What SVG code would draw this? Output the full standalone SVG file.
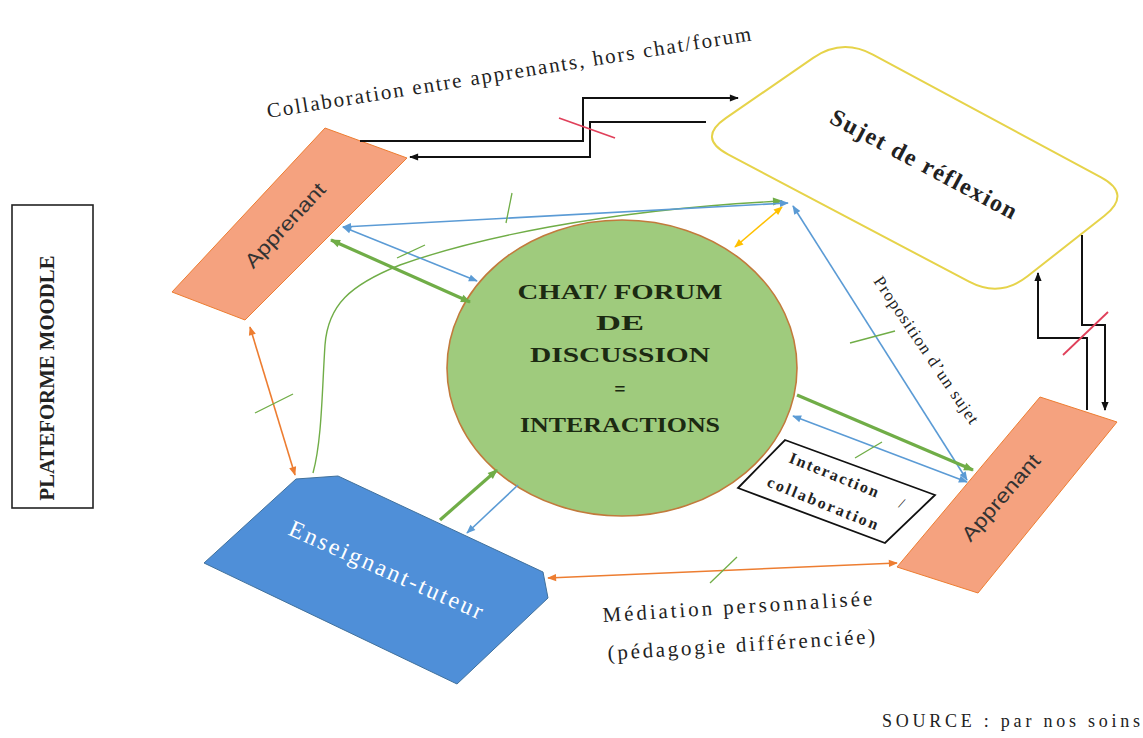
<svg xmlns="http://www.w3.org/2000/svg" width="1143" height="738" viewBox="0 0 1143 738">
<style>
.serif{font-family:"Liberation Serif","Times New Roman",serif;fill:#222}
.sans{font-family:"Liberation Sans",Arial,sans-serif;fill:#333}
.ctext{font-family:"Liberation Serif","Times New Roman",serif;font-weight:bold;font-size:20px;fill:#1c2a12;text-anchor:middle}
.blk{stroke:#111;stroke-width:2;fill:none}
.blu{stroke:#5b9bd5;stroke-width:1.6;fill:none}
.grn{stroke:#70ad47;stroke-width:1.4;fill:none}
.grnT{stroke:#70ad47;stroke-width:3.2;fill:none}
.org{stroke:#ed7d31;stroke-width:1.6;fill:none}
.gld{stroke:#ffc000;stroke-width:1.6;fill:none}
.tick{stroke:#70ad47;stroke-width:1.3}
.red{stroke:#e0405a;stroke-width:1.8}
.appr{fill:#f5a27f;stroke:#ed7d31;stroke-width:1}
</style>
<defs>
<marker id="ak" viewBox="0 0 10 10" refX="9" refY="5" markerWidth="10" markerHeight="9" markerUnits="userSpaceOnUse" orient="auto-start-reverse"><path d="M0,1 L10,5 L0,9 z" fill="#111"/></marker>
<marker id="ab" viewBox="0 0 10 10" refX="9" refY="5" markerWidth="10" markerHeight="9" markerUnits="userSpaceOnUse" orient="auto-start-reverse"><path d="M0,1 L10,5 L0,9 z" fill="#5b9bd5"/></marker>
<marker id="ag" viewBox="0 0 10 10" refX="9" refY="5" markerWidth="11" markerHeight="10" markerUnits="userSpaceOnUse" orient="auto-start-reverse"><path d="M0,1 L10,5 L0,9 z" fill="#70ad47"/></marker>
<marker id="ao" viewBox="0 0 10 10" refX="9" refY="5" markerWidth="10" markerHeight="9" markerUnits="userSpaceOnUse" orient="auto-start-reverse"><path d="M0,1 L10,5 L0,9 z" fill="#ed7d31"/></marker>
<marker id="ay" viewBox="0 0 10 10" refX="9" refY="5" markerWidth="10" markerHeight="9" markerUnits="userSpaceOnUse" orient="auto-start-reverse"><path d="M0,1 L10,5 L0,9 z" fill="#ffc000"/></marker>
</defs>
<rect width="1143" height="738" fill="#fff"/>

<g id="plateforme">
<rect x="12" y="205" width="81" height="303" fill="#fff" stroke="#222" stroke-width="1.6"/>
<text class="serif" transform="translate(54,378) rotate(-90)" text-anchor="middle" font-size="22" font-weight="bold" textLength="245" lengthAdjust="spacingAndGlyphs">PLATEFORME MOODLE</text>
</g>

<g id="sujet">
<path d="M725.8,118.1 L813.2,57.9 Q842,38 872.9,54.6 L1101.1,177.4 Q1132,194 1104.5,215.7 L1027.5,276.3 Q1000,298 969.1,281.7 L728,154.3 Q697,138 725.8,118.1 Z" fill="#fff" stroke="#e6d34a" stroke-width="2"/>
<text class="serif" transform="translate(920,171) rotate(28)" text-anchor="middle" font-size="24" font-weight="bold" textLength="208" lengthAdjust="spacing">Sujet de réflexion</text>
</g>

<g id="apprenant1">
<polygon class="appr" points="325,128 407,158 245,320 172,292"/>
<text class="sans" transform="translate(290,230) rotate(-47)" text-anchor="middle" font-size="20" textLength="108" lengthAdjust="spacingAndGlyphs">Apprenant</text>
</g>

<g id="apprenant2">
<polygon class="appr" points="1040,397 1117,422 978,593 897,567"/>
<text class="sans" transform="translate(1006,502) rotate(-49)" text-anchor="middle" font-size="20" textLength="108" lengthAdjust="spacingAndGlyphs">Apprenant</text>
</g>

<g id="enseignant">
<polygon points="204,563 296,479 338,476 543,572 548,598 457,684" fill="#4f8fd8" stroke="#41719c" stroke-width="1"/>
<text transform="translate(383,577) rotate(24)" text-anchor="middle" font-family="Liberation Serif, Times New Roman, serif" font-size="24" fill="#fff" textLength="210" lengthAdjust="spacing">Enseignant-tuteur</text>
</g>

<g id="chat">
<ellipse cx="622" cy="368" rx="175" ry="148" fill="#9fcb7d" stroke="#c27a3c" stroke-width="1.6"/>
<text class="ctext" x="620" y="299" textLength="205" lengthAdjust="spacingAndGlyphs">CHAT/ FORUM</text>
<text class="ctext" x="620" y="330" textLength="48" lengthAdjust="spacingAndGlyphs">DE</text>
<text class="ctext" x="620" y="362" textLength="180" lengthAdjust="spacingAndGlyphs">DISCUSSION</text>
<text class="ctext" x="620" y="396" font-size="24">=</text>
<text class="ctext" x="620" y="432" textLength="200" lengthAdjust="spacingAndGlyphs">INTERACTIONS</text>
</g>

<g id="interaction">
<polygon points="785,440 935,495 885,543 738,488" fill="#fff" stroke="#111" stroke-width="1.8"/>
<text class="serif" transform="translate(788,462) rotate(22)" font-size="16" font-weight="bold" textLength="95" lengthAdjust="spacing">Interaction</text>
<text class="serif" transform="translate(898,507) rotate(22)" font-size="15">/</text>
<text class="serif" transform="translate(766,486) rotate(22)" font-size="16" font-weight="bold" textLength="118" lengthAdjust="spacing">collaboration</text>
</g>

<g id="connectors">
<path class="blk" d="M360,141 H583 V98 H738" marker-end="url(#ak)"/>
<path class="blk" d="M706,122 H590 V157 H410" marker-end="url(#ak)"/>
<path class="blk" d="M1082,235 V325 H1105 V410" marker-end="url(#ak)"/>
<path class="blk" d="M1087,410 V338 H1038 V273" marker-end="url(#ak)"/>
<line class="red" x1="559" y1="118" x2="615" y2="138"/>
<line class="red" x1="1063" y1="355" x2="1108" y2="312"/>

<path class="grn" d="M313,473 C322,440 322,390 325,345 C328,305 350,285 400,265 C470,240 600,210 782,201" marker-end="url(#ag)"/>
<path class="blu" d="M343,227 L788,203" marker-start="url(#ab)" marker-end="url(#ab)"/>
<path class="blu" d="M343,227 L477,281" marker-start="url(#ab)" marker-end="url(#ab)"/>
<path class="grnT" d="M331,240 L470,302" marker-start="url(#ag)" marker-end="url(#ag)"/>
<path class="gld" d="M782,207 L735,247" marker-start="url(#ay)" marker-end="url(#ay)"/>
<path class="blu" d="M793,206 L967,480" marker-start="url(#ab)" marker-end="url(#ab)"/>
<path class="grnT" d="M797,395 L973,470" marker-end="url(#ag)"/>
<path class="blu" d="M793,416 L967,482" marker-start="url(#ab)" marker-end="url(#ab)"/>
<path class="grnT" d="M440,520 L497,470" marker-end="url(#ag)"/>
<path class="blu" d="M518,485 L467,533" marker-end="url(#ab)"/>
<path class="org" d="M250,327 L295,475" marker-start="url(#ao)" marker-end="url(#ao)"/>
<path class="org" d="M548,578 L897,563" marker-start="url(#ao)" marker-end="url(#ao)"/>

<line class="tick" x1="512" y1="193" x2="506" y2="223"/>
<line class="tick" x1="397" y1="258" x2="425" y2="245"/>
<line class="tick" x1="255" y1="413" x2="293" y2="394"/>
<line class="tick" x1="850" y1="343" x2="895" y2="331"/>
<line class="tick" x1="855" y1="458" x2="882" y2="442"/>
<line class="tick" x1="710" y1="583" x2="737" y2="557"/>
</g>

<g id="labels">
<text class="serif" transform="translate(268,118) rotate(-9.1)" font-size="21" textLength="490" lengthAdjust="spacing">Collaboration entre apprenants, hors chat/forum</text>
<text class="serif" transform="translate(873,281) rotate(56)" font-size="17" textLength="174" lengthAdjust="spacing">Proposition d’un sujet</text>
<text class="serif" transform="translate(603,622) rotate(-3.6)" font-size="21" textLength="270" lengthAdjust="spacing">Médiation personnalisée</text>
<text class="serif" transform="translate(608,660) rotate(-3.6)" font-size="21" textLength="268" lengthAdjust="spacing">(pédagogie différenciée)</text>
<text class="serif" x="882" y="727" font-size="18" textLength="258" lengthAdjust="spacing">SOURCE : par nos soins</text>
</g>
</svg>
